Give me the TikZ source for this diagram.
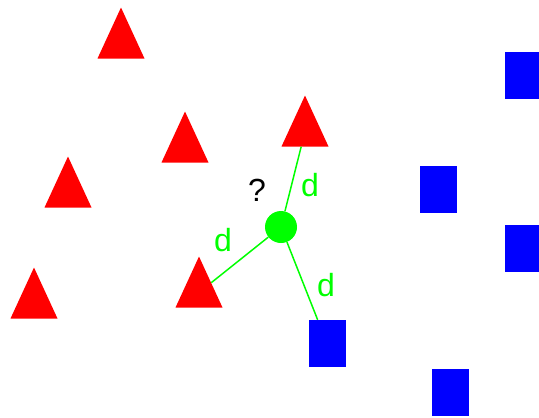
\documentclass[tikz,border=0pt]{standalone}
\usepackage{fontspec}
\setmainfont{Liberation Sans}
\usetikzlibrary{shapes.geometric}

\begin{document}
\begin{tikzpicture}[x=1pt, y=-1pt,
    every node/.style={font=\fontsize{32}{34}\selectfont, inner sep=0pt},
    tri/.style={isosceles triangle, isosceles triangle stretches, shape border rotate=90, minimum width=47pt, minimum height=51pt, fill=red, anchor=apex},
    sq/.style={rectangle, minimum width=37pt, minimum height=47pt, fill=blue},
    link/.style={draw=green, line width=1.5pt},
    dist/.style={text=green}]
        \useasboundingbox (0,0) rectangle (539,418);
        \clip (0,0) rectangle (539,418);
        % red class
        \node[tri] (tri1) at (121,7) {};
        \node[tri] (tri2) at (185,111) {};
        \node[tri] (tri3) at (68,156) {};
        \node[tri] (tri4) at (34,267) {};
        \node[tri] (tri5) at (199,256) {};
        \node[tri] (tri6) at (305,95) {};
        % blue class
        \node[sq] (sq1) at (523.5,75.5) {};
        \node[sq] (sq2) at (438.5,189.5) {};
        \node[sq] (sq3) at (523.5,248) {};
        \node[sq] (sq4) at (450,392.5) {};
        \node[sq] (sq5) at (327,343.5) {};
        % unknown point
        \node[circle, fill=green, minimum size=32pt] (q) at (281,227) {};
        \node (ask) at (257,190) {?};
        \draw[link] (q) -- (tri6);
        \draw[link] (q) -- (tri5);
        \draw[link] (q) -- (sq5);
        \node[dist] (d1) at (310,185) {d};
        \node[dist] (d2) at (223,240) {d};
        \node[dist] (d3) at (326,285) {d};
    \end{tikzpicture}
\end{document}
